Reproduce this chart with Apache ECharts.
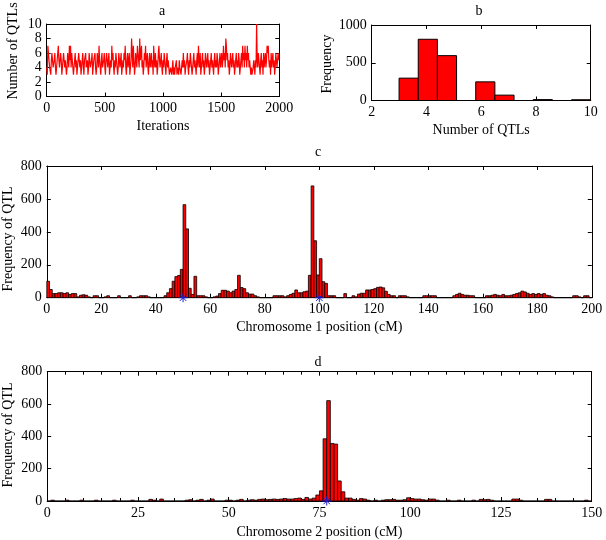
<!DOCTYPE html>
<html>
<head>
<meta charset="utf-8">
<script src="https://cdn.jsdelivr.net/npm/echarts@6/dist/echarts.min.js"></script>
<style>
  html, body { margin: 0; padding: 0; background: #fff; }
  #chart { width: 606px; height: 540px; }
</style>
</head>
<body>
<div id="chart"></div>
<script>
  // a: trace of the number of QTLs, one value every 5 iterations
  const traceStep = 5
  const traceQtl = [
    4,3,7,6,5,4,4,3,5,6,5,4,4,5,6,4,3,4,5,6,
    7,5,4,4,6,5,3,4,5,6,6,4,5,5,3,4,6,5,4,7,
    5,7,4,6,5,4,3,4,5,6,4,5,3,4,4,6,5,4,5,3,
    4,5,6,4,3,5,5,6,4,4,5,3,4,6,5,4,4,5,6,3,
    4,5,5,6,4,3,4,6,5,4,7,5,4,3,5,6,4,4,5,6,
    4,3,5,6,5,4,4,6,3,4,5,4,7,5,6,4,3,5,4,6,
    5,4,3,4,6,5,4,5,6,3,4,5,4,6,5,7,4,3,5,6,
    4,5,6,3,4,5,8,6,4,7,5,3,4,6,5,4,7,6,5,4,
    8,5,6,7,4,5,3,4,6,5,7,4,5,6,4,3,5,6,4,5,
    6,4,5,3,7,5,4,6,4,5,3,4,6,7,5,4,5,6,4,3,
    5,4,6,5,4,3,5,6,4,5,4,3,3,4,4,3,4,5,3,4,
    3,4,4,5,3,4,4,3,5,4,4,3,4,5,4,6,4,5,3,4,
    4,5,6,4,3,5,4,6,5,4,3,4,5,6,4,5,4,3,5,6,
    4,7,5,4,6,3,4,5,6,4,5,3,4,6,5,4,5,6,4,5,
    3,4,5,6,4,5,4,3,5,6,4,5,4,6,5,3,4,5,6,4,
    5,6,4,5,7,5,6,4,8,7,5,6,4,5,3,4,6,5,4,5,
    6,4,5,3,4,5,6,4,5,4,6,5,3,4,5,6,4,7,5,6,
    4,7,5,6,4,7,5,6,4,5,4,3,4,3,3,4,5,4,3,5,
    4,10,5,4,6,5,4,3,5,6,4,5,3,6,4,5,6,4,5,7,
    6,7,5,4,5,3,6,4,5,6,4,5,3,4,6,5,4,5,6,5,
    5
  ]

  // b: histogram of the number of QTLs
  const qtlBinStart = [3, 3.7, 4.4, 5.1, 5.8, 6.5, 7.2, 7.9, 8.6, 9.3]
  const qtlBinWidth = 0.7
  const qtlBinFreq = [296, 811, 594, 0, 247, 71, 0, 12, 0, 10]

  // c: QTL frequency along chromosome 1, 1 cM bins (0..199)
  const chr1Freq = [
    100,50,25,25,30,30,25,30,20,25, 25,5,15,18,15,5,0,12,12,0,
    0,5,12,0,0,0,12,0,0,0, 12,0,0,5,12,12,12,5,0,0,
    0,0,0,12,30,55,100,128,135,172, 565,418,57,20,130,12,12,12,5,0,
    0,5,10,25,45,45,40,30,40,50, 136,62,55,30,22,22,12,5,0,0,
    0,0,0,12,12,12,12,5,12,20, 27,47,30,30,36,40,136,679,346,138,
    237,97,87,12,12,12,0,0,0,25, 0,0,12,5,22,27,27,47,47,50,
    55,63,65,60,39,20,12,12,0,12, 12,12,5,0,0,0,0,0,12,12,
    12,12,12,0,0,0,0,0,0,12, 20,27,20,15,15,12,12,0,0,0,
    0,12,12,15,20,15,12,20,12,12, 15,20,25,30,40,35,27,20,25,20,
    25,20,25,15,12,5,0,0,0,0, 0,0,0,12,12,5,0,12,12,0
  ]
  const chr1True = [50, 100]

  // d: QTL frequency along chromosome 2, 1 cM bins (0..149)
  const chr2Freq = [
    0,5,0,0,0,5,0,0,0,5, 0,0,0,5,0,0,0,0,5,0,
    0,0,0,5,0,0,0,0,10,5, 0,12,0,0,0,0,0,0,5,8,
    0,5,10,0,5,12,0,0,0,5, 5,0,5,10,0,5,8,5,10,12,
    8,10,12,10,12,15,12,12,15,18, 10,22,12,18,37,63,385,621,356,352,
    124,57,18,18,10,5,15,12,5,0, 5,0,5,8,8,10,5,5,8,20,
    15,12,12,8,5,12,12,5,0,0, 5,0,0,5,0,0,0,5,0,10,
    8,10,5,0,0,0,0,0,12,12, 5,0,0,0,0,0,0,10,10,0,
    0,0,0,0,0,0,0,0,5,0
  ]
  const chr2True = [77]

  const font = 'Liberation Serif'
  const black = '#000'
  const red = '#ff0000'

  // an axis with a mirrored, label-less copy on the opposite side (closed box)
  function axisPair(dim, grid, min, max, interval, extra) {
    const main = Object.assign({
      type: 'value',
      gridIndex: grid,
      min: min,
      max: max,
      interval: interval,
      position: dim === 'x' ? 'bottom' : 'left',
      axisLine: { show: true, onZero: false, lineStyle: { color: black, width: 1 } },
      axisTick: { show: true, inside: true, length: 4, lineStyle: { color: black } },
      axisLabel: { color: black, fontFamily: font, fontSize: 14, margin: 5, formatter: v => String(v) },
      splitLine: { show: false },
      nameLocation: 'middle',
      nameGap: 23,
      nameTextStyle: { color: black, fontFamily: font, fontSize: 14 }
    }, extra || {})
    const mirror = Object.assign({}, main, {
      position: dim === 'x' ? 'top' : 'right',
      axisLabel: { show: false },
      name: ''
    })
    return [main, mirror]
  }

  const minor5 = { minorTick: { show: true, splitNumber: 5, length: 3, lineStyle: { color: black } } }

  const xAxes = [].concat(
    axisPair('x', 0, 0, 2000, 500, { name: 'Iterations' }),
    axisPair('x', 1, 2, 10, 2, { name: 'Number of QTLs' }),
    axisPair('x', 2, 0, 200, 20, { name: 'Chromosome 1 position (cM)' }),
    axisPair('x', 3, 0, 150, 25, Object.assign({ name: 'Chromosome 2 position (cM)', nameGap: 24 }, minor5))
  )
  const yAxes = [].concat(
    axisPair('y', 0, 0, 10, 2),
    axisPair('y', 1, 0, 1000, 500),
    axisPair('y', 2, 0, 800, 200),
    axisPair('y', 3, 0, 800, 200)
  )

  function barItem(lw) {
    return function (params, api) {
      const p0 = api.coord([api.value(0), api.value(2)])
      const p1 = api.coord([api.value(1), 0])
      return {
        type: 'rect',
        shape: { x: p0[0], y: p0[1], width: p1[0] - p0[0], height: p1[1] - p0[1] },
        style: { fill: red, stroke: black, lineWidth: lw }
      }
    }
  }

  function starItem(params, api) {
    const p = api.coord([api.value(0), 0])
    const r = 4.5
    const d = r * 0.72
    const st = { stroke: '#1f1fd0', lineWidth: 1 }
    return {
      type: 'group',
      children: [
        { type: 'line', shape: { x1: p[0], y1: p[1] - r, x2: p[0], y2: p[1] + r }, style: st },
        { type: 'line', shape: { x1: p[0] - r, y1: p[1], x2: p[0] + r, y2: p[1] }, style: st },
        { type: 'line', shape: { x1: p[0] - d, y1: p[1] - d, x2: p[0] + d, y2: p[1] + d }, style: st },
        { type: 'line', shape: { x1: p[0] - d, y1: p[1] + d, x2: p[0] + d, y2: p[1] - d }, style: st }
      ]
    }
  }

  function textEl(text, x, y, rot) {
    return {
      type: 'text', x: x, y: y, rotation: rot || 0,
      style: { text: text, fill: black, fontFamily: font, fontSize: 14, align: 'center', verticalAlign: 'middle' }
    }
  }

  const chart = echarts.init(document.getElementById('chart'))
  chart.setOption({
    animation: false,
    backgroundColor: '#fff',
    grid: [
      { left: 46.7, top: 24, width: 232.6, height: 72.5 },
      { left: 371.7, top: 25, width: 219, height: 75.5 },
      { left: 46.8, top: 166, width: 545, height: 131.7 },
      { left: 47.2, top: 371.7, width: 544.5, height: 131 }
    ],
    xAxis: xAxes,
    yAxis: yAxes,
    graphic: [
      textEl('a', 162, 11),
      textEl('b', 479, 11),
      textEl('c', 318, 152),
      textEl('d', 318, 362),
      textEl('Number of QTLs', 13, 51, Math.PI / 2),
      textEl('Frequency', 327, 64, Math.PI / 2),
      textEl('Frequency of QTL', 8, 239, Math.PI / 2),
      textEl('Frequency of QTL', 8, 435, Math.PI / 2)
    ],
    series: [
      {
        type: 'line',
        xAxisIndex: 0,
        yAxisIndex: 0,
        step: 'end',
        data: traceQtl.map((v, i) => [i * traceStep, v]),
        showSymbol: false,
        symbol: 'none',
        lineStyle: { color: red, width: 1.2 },
        silent: true
      },
      {
        type: 'custom',
        xAxisIndex: 2,
        yAxisIndex: 2,
        data: qtlBinStart.map((s, i) => [s, s + qtlBinWidth, qtlBinFreq[i]]),
        encode: { x: [0, 1], y: 2 },
        renderItem: barItem(1)
      },
      {
        type: 'custom',
        xAxisIndex: 4,
        yAxisIndex: 4,
        data: chr1Freq.map((v, i) => [i, i + 1, v]),
        encode: { x: [0, 1], y: 2 },
        renderItem: barItem(0.8)
      },
      {
        type: 'custom',
        xAxisIndex: 6,
        yAxisIndex: 6,
        data: chr2Freq.map((v, i) => [i, i + 1, v]),
        encode: { x: [0, 1], y: 2 },
        renderItem: barItem(0.8)
      },
      {
        type: 'custom',
        xAxisIndex: 4,
        yAxisIndex: 4,
        clip: false,
        data: chr1True.map(p => [p]),
        encode: { x: 0 },
        renderItem: starItem,
        z: 5
      },
      {
        type: 'custom',
        xAxisIndex: 6,
        yAxisIndex: 6,
        clip: false,
        data: chr2True.map(p => [p]),
        encode: { x: 0 },
        renderItem: starItem,
        z: 5
      }
    ]
  })
</script>
</body>
</html>
